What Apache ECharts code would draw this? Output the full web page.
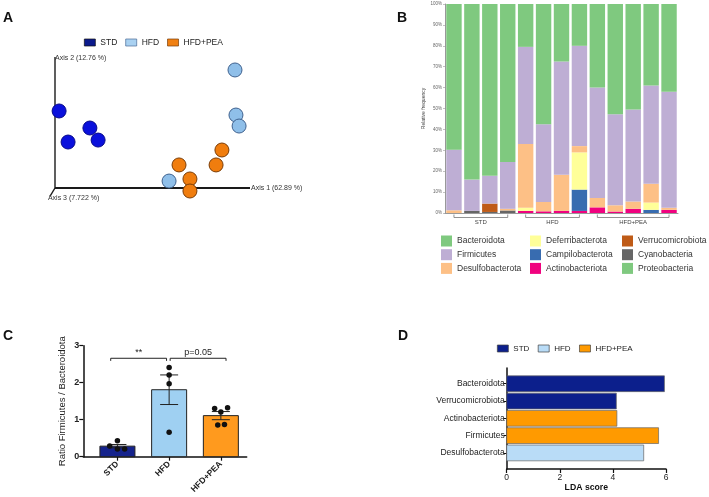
<!DOCTYPE html>
<html><head><meta charset="utf-8">
<script src="https://cdn.jsdelivr.net/npm/echarts@6/dist/echarts.min.js"></script>
<style>html,body{margin:0;padding:0;background:#fff}#c{width:709px;height:497px}</style>
</head><body><div id="c"></div>
<script>
// ---------- Panel A: PCoA scores (arbitrary plot units) ----------
const pcoaSTD = [[2.1,58.8],[6.7,35.1],[17.9,45.8],[22.1,36.6]];
const pcoaHFD = [[92.3,90.1],[92.8,55.7],[94.4,47.3],[58.5,5.3]];
const pcoaPEA = [[63.6,17.6],[69.2,6.9],[69.2,-2.3],[82.6,17.6],[85.6,29.0]];
const pcoaAxes = [[0,0,100,0],[0,0,0,100],[0,0,-2.6,-6.4]];
const pcoaAxisNames = ['Axis 1 (62.89 %)','Axis 2 (12.76 %)','Axis 3 (7.722 %)'];
const groupNames = ['STD','HFD','HFD+PEA'];

// ---------- Panel B: relative frequency (%) per sample ----------
const samples = ['STD-1','STD-2','STD-3','STD-4','HFD-1','HFD-2','HFD-3','HFD-4','PEA-1','PEA-2','PEA-3','PEA-4','PEA-5'];
const sampleGroupSpans = [[0,3],[4,7],[8,12]];
const cyanobacteria     = [0,1.0,0.5,1.2,0,0,0,0,0,0,0,0,0];
const proteobacteria    = [0,0,0,0,0,0,0,0,0,0,0,0,0];
const actinobacteriota  = [0,0,0,0,1.0,0.8,1.0,1.0,2.7,0.7,2.0,0,1.5];
const campilobacterota  = [0,0,0,0,0,0,0,10.2,0,0,0,1.5,0];
const deferribacterota  = [0,0,0,0,1.5,0,0,17.8,0,0,0,3.5,0];
const verrucomicrobiota = [0,0,4.0,0,0,0,0,0,0,0,0,0,0];
const desulfobacterota  = [1.3,0,0,0.8,30.5,4.5,17.3,3.0,4.5,3.0,3.5,9.0,1.0];
const firmicutes        = [29.0,15.0,13.3,22.4,46.5,37.2,54.2,48.0,52.8,43.6,44.0,47.0,55.5];
const bacteroidota      = [69.7,84.0,82.2,75.6,20.5,57.5,27.5,20.0,40.0,52.7,50.5,39.0,42.0];

// ---------- Panel C: Firmicutes/Bacteroidota ratio ----------
const ratioMean = [0.285,1.81,1.11];
const ratioSEM = [0.045,0.40,0.11];
const ratioPoints = [[0,0.43],[-0.15,0.29],[0,0.21],[0.14,0.21],
                     [1,2.41],[1,2.21],[1,1.97],[1,0.66],
                     [1.88,1.30],[2.13,1.32],[2,1.21],[1.94,0.86],[2.07,0.87]];
const sigSpans = [[-0.13,0.95],[1.02,2.1]];
const sigHeight = [2.66,2.66];
const sigLabels = ['**','p=0.05'];

// ---------- Panel D: LEfSe LDA scores ----------
const ldaTaxa = ['Bacteroidota','Verrucomicrobiota','Actinobacteriota','Firmicutes','Desulfobacterota'];
const ldaScore = [5.94,4.13,4.15,5.72,5.16];
const ldaGroup = ['STD','STD','HFD+PEA','HFD+PEA','HFD'];

// ---------- styling ----------
const FONT = '"Liberation Sans", Arial, sans-serif';
const accent = {
  Bacteroidota:'#7fc97f', Firmicutes:'#beaed4', Desulfobacterota:'#fdc086',
  Deferribacterota:'#ffff99', Campilobacterota:'#386cb0', Actinobacteriota:'#f0027f',
  Verrucomicrobiota:'#bf5b17', Cyanobacteria:'#666666', Proteobacteria:'#7fc97f'
};
const phylaStack = [
  ['Cyanobacteria',cyanobacteria],['Proteobacteria',proteobacteria],
  ['Actinobacteriota',actinobacteriota],['Campilobacterota',campilobacterota],
  ['Deferribacterota',deferribacterota],['Verrucomicrobiota',verrucomicrobiota],
  ['Desulfobacterota',desulfobacterota],['Firmicutes',firmicutes],['Bacteroidota',bacteroidota]
];
const ratioColors = ['#15238c','#9fd0f2','#ff9a1e'];
const ldaColors = {'STD':'#0c1f8c','HFD':'#b9dcf7','HFD+PEA':'#ff9a00'};

const chart = echarts.init(document.getElementById('c'));

const series = [];
// A
series.push({type:'custom', name:'pcoaAxes', xAxisIndex:0, yAxisIndex:0, silent:true, z:1,
  data:pcoaAxes, encode:{x:[0,2], y:[1,3]},
  renderItem:(p,api)=>{
    const a=api.coord([api.value(0),api.value(1)]), b=api.coord([api.value(2),api.value(3)]);
    const i=p.dataIndex;
    let lx=b[0]+1, ly=b[1];
    if(i===1){lx=b[0]; ly=b[1]+1;}
    if(i===2){lx=b[0]-2; ly=b[1]+2;}
    return {type:'group', children:[
      {type:'line', shape:{x1:a[0],y1:a[1],x2:b[0],y2:b[1]}, style:{stroke:'#1a1a1a', lineWidth:i===0?1.8:1.4}},
      {type:'text', x:lx, y:ly, style:{text:pcoaAxisNames[i], fill:'#333', font:'7px '+FONT, align:'left', verticalAlign:'middle'}}
    ]};
  }});
const scat=(name,data,fill,stroke)=>({type:'scatter', name, xAxisIndex:0, yAxisIndex:0, data, symbolSize:14, z:3,
  itemStyle:{color:fill, borderColor:stroke, borderWidth:1, opacity:1}});
series.push(scat('STD',pcoaSTD,'#0a10dc','#06088a'));
series.push(scat('HFD',pcoaHFD,'#8fbfe9','#3f618e'));
series.push(scat('HFD+PEA',pcoaPEA,'#f07d0e','#7a3c06'));

// B
phylaStack.forEach(([name,data])=>{
  series.push({type:'bar', name, stack:'rf', xAxisIndex:1, yAxisIndex:1, data,
    barCategoryGap:'14%', itemStyle:{color:accent[name]}});
});
series.push({type:'custom', name:'groupBrackets', xAxisIndex:1, yAxisIndex:1, silent:true,
  data:sampleGroupSpans, encode:{x:[0,1]},
  renderItem:(p,api)=>{
    const a=api.coord([api.value(0),0]), b=api.coord([api.value(1),0]);
    const y=a[1]+4.5;
    return {type:'group', children:[
      {type:'polyline', shape:{points:[[a[0],y-3],[a[0],y],[b[0],y],[b[0],y-3]]}, style:{stroke:'#777', lineWidth:0.8, fill:null}},
      {type:'text', x:(a[0]+b[0])/2, y:y+1.5, style:{text:groupNames[p.dataIndex], fill:'#444', font:'6px '+FONT, align:'center', verticalAlign:'top'}}
    ]};
  }});

// C
series.push({type:'custom', name:'ratioBars', xAxisIndex:2, yAxisIndex:2, z:2,
  data:ratioMean.map((m,i)=>[i,m]), encode:{x:0,y:1},
  renderItem:(p,api)=>{
    const a=api.coord([api.value(0),0]), b=api.coord([api.value(0),api.value(1)]);
    const w=35;
    return {type:'rect', shape:{x:a[0]-w/2, y:b[1], width:w, height:a[1]-b[1]},
      style:{fill:ratioColors[p.dataIndex], stroke:'#222', lineWidth:1}};
  }});
series.push({type:'custom', name:'ratioErr', xAxisIndex:2, yAxisIndex:2, z:3,
  data:ratioMean.map((m,i)=>[i,m,ratioSEM[i]]), encode:{x:0,y:1},
  renderItem:(p,api)=>{
    const x=api.value(0), m=api.value(1), s=api.value(2);
    const t=api.coord([x,m+s]), b=api.coord([x,m-s]);
    const cw=9;
    const st={stroke:'#222', lineWidth:1};
    return {type:'group', children:[
      {type:'line', shape:{x1:t[0],y1:t[1],x2:b[0],y2:b[1]}, style:st},
      {type:'line', shape:{x1:t[0]-cw,y1:t[1],x2:t[0]+cw,y2:t[1]}, style:st},
      {type:'line', shape:{x1:b[0]-cw,y1:b[1],x2:b[0]+cw,y2:b[1]}, style:st}
    ]};
  }});
series.push({type:'scatter', name:'ratioPts', xAxisIndex:2, yAxisIndex:2, z:4,
  data:ratioPoints, symbolSize:5.5, itemStyle:{color:'#111', opacity:1}});
series.push({type:'custom', name:'sig', xAxisIndex:2, yAxisIndex:2, silent:true, z:3,
  data:sigSpans.map((s,i)=>[s[0],s[1],sigHeight[i]]), encode:{x:[0,1],y:2},
  renderItem:(p,api)=>{
    const y=api.value(2);
    const a=api.coord([api.value(0),y]), b=api.coord([api.value(1),y]);
    const d=api.coord([api.value(0),y-0.07]);
    const dy=d[1]-a[1];
    return {type:'group', children:[
      {type:'polyline', shape:{points:[[a[0],a[1]+dy],[a[0],a[1]],[b[0],b[1]],[b[0],b[1]+dy]]}, style:{stroke:'#222', lineWidth:1, fill:null}},
      {type:'text', x:(a[0]+b[0])/2, y:a[1]-1.5, style:{text:sigLabels[p.dataIndex], fill:'#222', font:'9px '+FONT, align:'center', verticalAlign:'bottom'}}
    ]};
  }});

// D
groupNames.forEach(g=>{
  const data=[];
  ldaTaxa.forEach((t,i)=>{ if(ldaGroup[i]===g) data.push([ldaScore[i],i]); });
  series.push({type:'custom', name:g, xAxisIndex:3, yAxisIndex:3, data, encode:{x:0,y:1},
    itemStyle:{color:ldaColors[g]},
    renderItem:(p,api)=>{
      const v=api.value(0), i=api.value(1);
      const a=api.coord([0,i]), b=api.coord([v,i]);
      const h=15.8;
      return {type:'rect', shape:{x:a[0], y:a[1]-h/2, width:b[0]-a[0], height:h},
        style:{fill:ldaColors[g], stroke:'#666', lineWidth:0.7}};
    }});
});

const legText = {fontFamily:FONT, color:'#222'};
const bLegend = (left, names)=>({left, top:235.5, orient:'vertical', padding:0, itemWidth:11, itemHeight:11, itemGap:2.7,
  icon:'rect', selectedMode:false, textStyle:{fontFamily:FONT, fontSize:8.5, color:'#333'}, data:names});

const option = {
  animation:false,
  textStyle:{fontFamily:FONT},
  grid:[
    {left:45.25, top:57, width:204.75, height:144.1, containLabel:false, outerBoundsMode:'none'},
    {left:445, top:4, width:233, height:209, containLabel:false, outerBoundsMode:'none'},
    {left:83.3, top:345.7, width:163.4, height:111, containLabel:false, outerBoundsMode:'none'},
    {left:506.7, top:368, width:159.3, height:101, containLabel:false, outerBoundsMode:'none'}
  ],
  xAxis:[
    {gridIndex:0, type:'value', min:-5, max:100, show:false},
    {gridIndex:1, type:'category', data:samples, axisLabel:{show:false}, axisTick:{show:false},
      axisLine:{lineStyle:{color:'#999', width:1}}},
    {gridIndex:2, type:'value', min:-0.66, max:2.5, splitLine:{show:false},
      axisLine:{onZero:false, lineStyle:{color:'#111', width:1.5}},
      axisTick:{customValues:[0,1,2], length:4, lineStyle:{color:'#111', width:1.2}},
      axisLabel:{customValues:[0,1,2], formatter:v=>groupNames[Math.round(v)]||'', rotate:45, margin:6,
        fontSize:8.5, fontWeight:'bold', color:'#222', fontFamily:FONT}},
    {gridIndex:3, type:'value', min:0, max:6, interval:2, splitLine:{show:false},
      axisLine:{onZero:false, lineStyle:{color:'#111', width:1.5}},
      axisTick:{length:4, lineStyle:{color:'#111', width:1.2}},
      axisLabel:{fontSize:8.5, color:'#222', margin:4, fontFamily:FONT},
      name:'LDA score', nameLocation:'middle', nameGap:14,
      nameTextStyle:{fontSize:8.7, fontWeight:'bold', color:'#111', fontFamily:FONT}}
  ],
  yAxis:[
    {gridIndex:0, type:'value', min:-10, max:100, show:false},
    {gridIndex:1, type:'value', min:0, max:100, interval:10, splitLine:{show:false},
      axisLine:{show:true, lineStyle:{color:'#999', width:1}},
      axisTick:{show:true, length:2, lineStyle:{color:'#999', width:0.6}},
      axisLabel:{formatter:'{value}%', fontSize:4.5, color:'#666', margin:3, fontFamily:FONT},
      name:'Relative frequency', nameLocation:'middle', nameGap:16,
      nameTextStyle:{fontSize:5, color:'#444', fontFamily:FONT}},
    {gridIndex:2, type:'value', min:0, max:3, interval:1, splitLine:{show:false},
      axisLine:{show:true, onZero:false, lineStyle:{color:'#111', width:1.5}},
      axisTick:{show:true, length:4, lineStyle:{color:'#111', width:1.2}},
      axisLabel:{fontSize:9, fontWeight:'bold', color:'#222', margin:4, fontFamily:FONT},
      name:'Ratio Firmicutes / Bacteroidota', nameLocation:'middle', nameGap:16,
      nameTextStyle:{fontSize:9.5, color:'#222', fontFamily:FONT}},
    {gridIndex:3, type:'value', inverse:true, min:-0.91, max:4.93, splitLine:{show:false},
      axisLine:{show:true, onZero:false, lineStyle:{color:'#111', width:1.5}},
      axisTick:{show:true, customValues:[0,1,2,3,4], length:3, lineStyle:{color:'#111', width:1}},
      axisLabel:{customValues:[0,1,2,3,4], formatter:v=>ldaTaxa[Math.round(v)]||'', fontSize:8.5, color:'#222', margin:2, fontFamily:FONT}}
  ],
  legend:[
    {left:84, top:38, padding:0, itemWidth:11, itemHeight:7, itemGap:8, icon:'rect', selectedMode:false,
      textStyle:Object.assign({fontSize:8.5}, legText),
      data:[
        {name:'STD', itemStyle:{color:'#0b1a8c', borderColor:'#111', borderWidth:0.7, opacity:1}},
        {name:'HFD', itemStyle:{color:'#a9d1f1', borderColor:'#4a6c96', borderWidth:0.7, opacity:1}},
        {name:'HFD+PEA', itemStyle:{color:'#f08012', borderColor:'#7a3d08', borderWidth:0.7, opacity:1}}
      ]},
    bLegend(441, ['Bacteroidota','Firmicutes','Desulfobacterota']),
    bLegend(530, ['Deferribacterota','Campilobacterota','Actinobacteriota']),
    bLegend(622, ['Verrucomicrobiota','Cyanobacteria','Proteobacteria']),
    {left:497, top:344.5, padding:0, itemWidth:11, itemHeight:7, itemGap:8.5, icon:'rect', selectedMode:false,
      textStyle:Object.assign({fontSize:8}, legText),
      data:[
        {name:'STD', itemStyle:{color:'#0c1f8c', borderColor:'#444', borderWidth:0.7, opacity:1}},
        {name:'HFD', itemStyle:{color:'#b9dcf7', borderColor:'#444', borderWidth:0.7, opacity:1}},
        {name:'HFD+PEA', itemStyle:{color:'#ff9a00', borderColor:'#444', borderWidth:0.7, opacity:1}}
      ]}
  ],
  graphic:[
    {type:'text', left:3, top:11, style:{text:'A', font:'bold 14px '+FONT, fill:'#111'}},
    {type:'text', left:397, top:11, style:{text:'B', font:'bold 14px '+FONT, fill:'#111'}},
    {type:'text', left:3, top:329, style:{text:'C', font:'bold 14px '+FONT, fill:'#111'}},
    {type:'text', left:398, top:329, style:{text:'D', font:'bold 14px '+FONT, fill:'#111'}}
  ],
  series
};
chart.setOption(option);
</script></body></html>
